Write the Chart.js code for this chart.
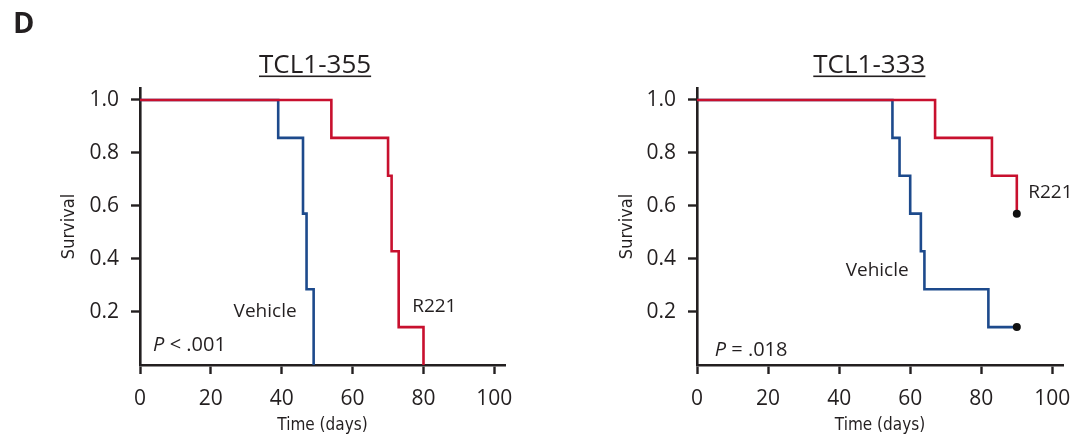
<!DOCTYPE html>
<html>
<head>
<meta charset="utf-8">
<script src="https://cdn.jsdelivr.net/npm/chart.js@4.4.1/dist/chart.umd.min.js"></script>
<style>
    html, body { margin: 0; padding: 0; background: #fff; }
    #wrap { position: relative; width: 1074px; height: 439px; overflow: hidden; }
    canvas { position: absolute; top: 0; }
</style>
</head>
<body>
<div id="wrap">
    <canvas id="chart355" width="537" height="439" style="left:0"></canvas>
    <canvas id="chart333" width="537" height="439" style="left:537px"></canvas>
</div>
<script>
// tick labels
var xTicks = [0, 20, 40, 60, 80, 100];
var yTicks = [0.2, 0.4, 0.6, 0.8, 1.0];

// TCL1-355 (Kaplan-Meier steps: day of event, survival after it)
var vehDays355 = [0, 39, 46, 47, 49];
var vehSurv355 = [1, 0.857, 0.571, 0.286, 0];
var r221Days355 = [0, 54, 70, 71, 73, 80];
var r221Surv355 = [1, 0.857, 0.714, 0.429, 0.143, 0];

// TCL1-333 (last point censored at day 90)
var vehDays333 = [0, 55, 57, 60, 63, 64, 82, 90];
var vehSurv333 = [1, 0.857, 0.714, 0.571, 0.429, 0.286, 0.143, 0.143];
var r221Days333 = [0, 67, 83, 90];
var r221Surv333 = [1, 0.857, 0.714, 0.571];

var RED = '#c8102e';
var BLUE = '#1d4a8c';
var INK = '#231f20';
var TICK_FONT = {family: '"Open Sans", sans-serif', size: 21};
var COND = '"DejaVu Sans Condensed", "DejaVu Sans", sans-serif';

function toPoints(days, surv) {
    var pts = [];
    for (var i = 0; i < days.length; i++) pts.push({x: days[i], y: surv[i]});
    return pts;
}

function kmDataset(label, days, surv, color, censored) {
    return {
        label: label,
        data: toPoints(days, surv),
        borderColor: color,
        borderWidth: 2.6,
        stepped: 'before',
        fill: false,
        pointRadius: function (ctx) {
            return (censored && ctx.dataIndex === days.length - 1) ? 4 : 0;
        },
        pointBackgroundColor: '#111',
        pointBorderColor: '#111',
        pointBorderWidth: 0
    };
}

var kmText = {
    id: 'kmText',
    afterDraw: function (chart) {
        var o = chart.options.plugins.kmText;
        var ctx = chart.ctx;
        var xs = chart.scales.x, ys = chart.scales.y;
        ctx.save();
        ctx.fillStyle = INK;

        if (o.panel) {
            ctx.font = 'bold 29px "Open Sans", sans-serif';
            ctx.textAlign = 'left';
            ctx.textBaseline = 'alphabetic';
            ctx.fillText(o.panel, 13, 33);
        }

        // underlined title
        ctx.font = '26px "Open Sans", sans-serif';
        ctx.textAlign = 'center';
        ctx.textBaseline = 'alphabetic';
        var tx = xs.getPixelForValue(o.titleAt);
        ctx.fillText(o.title, tx, 73);
        var w = ctx.measureText(o.title).width;
        ctx.fillRect(tx - w / 2, 75.5, w, 1.6);

        // curve labels
        ctx.font = '19px "Open Sans", sans-serif';
        ctx.textBaseline = 'middle';
        o.labels.forEach(function (l) {
            ctx.textAlign = l.align;
            ctx.fillText(l.text, xs.getPixelForValue(l.x), ys.getPixelForValue(l.y));
        });

        // P value with italic P
        var px = xs.getPixelForValue(o.p.x), py = ys.getPixelForValue(o.p.y);
        ctx.textAlign = 'left';
        ctx.font = 'italic 20px "Open Sans", sans-serif';
        ctx.fillText('P', px, py);
        var pw = ctx.measureText('P').width;
        ctx.font = '20px "Open Sans", sans-serif';
        ctx.fillText(o.p.rest, px + pw, py);
        ctx.restore();
    }
};

function makeChart(id, datasets, axisWidth, titlePad, text) {
    var el = document.getElementById(id);
    return new Chart(el.getContext('2d'), {
        type: 'line',
        data: {datasets: datasets},
        options: {
            responsive: false,
            animation: false,
            layout: {padding: {top: 88, right: text.rightPad, left: 0, bottom: 0}},
            plugins: {legend: {display: false}, tooltip: {enabled: false}, kmText: text},
            scales: {
                x: {
                    type: 'linear',
                    min: 0,
                    max: 103,
                    afterBuildTicks: function (s) { s.ticks = xTicks.map(function (v) { return {value: v}; }); },
                    afterFit: function (s) { s.height = 74; s.paddingLeft = 0; s.paddingRight = 0; },
                    border: {display: true, color: INK, width: 2.6},
                    grid: {drawOnChartArea: false, drawTicks: true, tickLength: 9, tickWidth: 2.4, tickColor: INK},
                    ticks: {color: INK, font: TICK_FONT, padding: 12, maxRotation: 0},
                    title: {display: true, text: 'Time (days)', color: INK, font: {family: COND, size: 17}, padding: {top: 0, bottom: 3}}
                },
                y: {
                    type: 'linear',
                    min: 0,
                    max: 1.045,
                    afterBuildTicks: function (s) { s.ticks = yTicks.map(function (v) { return {value: v}; }); },
                    afterFit: function (s) { s.width = axisWidth; s.paddingTop = 0; s.paddingBottom = 0; },
                    border: {display: true, color: INK, width: 2.6},
                    grid: {drawOnChartArea: false, drawTicks: true, tickLength: 9, tickWidth: 2.4, tickColor: INK},
                    ticks: {color: INK, font: TICK_FONT, padding: 12,
                        callback: function (v) { return v.toFixed(1); }},
                    title: {display: true, text: 'Survival', color: INK, font: {family: COND, size: 18}, padding: {top: titlePad, bottom: 0}}
                }
            }
        },
        plugins: [kmText]
    });
}

// R221 listed first so it is drawn on top of Vehicle
makeChart('chart355', [
    kmDataset('R221', r221Days355, r221Surv355, RED, false),
    kmDataset('Vehicle', vehDays355, vehSurv355, BLUE, false)
], 140, 59, {
    panel: 'D',
    title: 'TCL1-355',
    titleAt: 49.4,
    rightPad: 32,
    labels: [
        {text: 'Vehicle', x: 35.3, y: 0.2, align: 'center'},
        {text: 'R221', x: 76.8, y: 0.22, align: 'left'}
    ],
    p: {x: 3.7, y: 0.075, rest: ' < .001'}
});

makeChart('chart333', [
    kmDataset('R221', r221Days333, r221Surv333, RED, true),
    kmDataset('Vehicle', vehDays333, vehSurv333, BLUE, true)
], 160, 80, {
    panel: null,
    title: 'TCL1-333',
    titleAt: 48.5,
    rightPad: 11,
    labels: [
        {text: 'Vehicle', x: 50.7, y: 0.355, align: 'center'},
        {text: 'R221', x: 93.2, y: 0.65, align: 'left'}
    ],
    p: {x: 5.0, y: 0.057, rest: ' = .018'}
});
</script>
</body>
</html>
